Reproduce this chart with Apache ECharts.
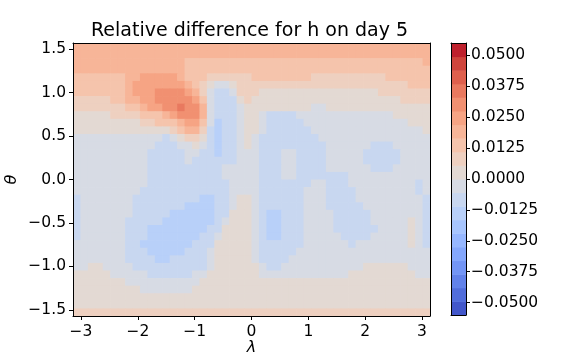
<!DOCTYPE html>
<html>
<head>
<meta charset="utf-8">
<script src="https://cdn.jsdelivr.net/npm/echarts@6/dist/echarts.min.js"></script>
<style>
  html, body { margin: 0; padding: 0; background: #fff; }
  #chart { width: 576px; height: 360px; }
</style>
</head>
<body>
<div id="chart"></div>
<script>
// contour levels of the colour bar
const levels = [-0.055, -0.0495, -0.044, -0.0385, -0.033, -0.0275, -0.022, -0.0165, -0.011, -0.0055,
  0, 0.0055, 0.011, 0.0165, 0.022, 0.0275, 0.033, 0.0385, 0.044, 0.0495, 0.055];
const cbarTicks = [-0.05, -0.0375, -0.025, -0.0125, 0, 0.0125, 0.025, 0.0375, 0.05];
const xTicks = [-3, -2, -1, 0, 1, 2, 3];
const yTicks = [-1.5, -1, -0.5, 0, 0.5, 1, 1.5];

// field: 36 latitude rows (north to south) x 48 longitude columns,
// each cell holds the contour band it sits in (c=-3, b=-2, a=-1, 0..6), run-length written
const bandRows = [
  '3*48',
  '3*48',
  '3*15 2*32 3',
  '3*15 2*33',
  '2*7 3*2 4*5 3 2*3 1*6 2*8 1*10 2*6',
  '2*7 3 4*7 3 2 1 0 a*2 0 1*23 2*3',
  '2*7 3 4*3 5*4 4 3 1 a b*2 a 1*3 0*16 1*7',
  '1*5 2*2 3*2 4*2 5*5 4 2 a b*3 0 1 0*20 1*4',
  '1*7 2*2 3 4*2 5*2 6 5*2 3 a b*3 a 0*9 a*2 0*14',
  '0*5 1*4 2*3 3 4 5*3 3 a b*3 a 0*2 a b*4 a*13 0*5',
  '0*9 1*2 2*3 3 4*2 2 a c b*2 a 0*2 a b*5 a*14 0*3',
  '0*13 1 2 3*2 1 b c b*2 a 0*2 a b*6 a*15 0',
  'a*12 b a 0 1*2 0 b c b*2 a 0 a b*8 a*15',
  'a*11 b*3 a*2 0 a b c b*2 a 0 a b*9 a*6 b*3 a*5',
  'a*10 b*5 a*2 b*2 c b*2 a*3 b*3 a*2 b*4 a*5 b*5 a*4',
  'a*10 b*5 a b*6 a*3 b*3 a*2 b*4 a*5 b*5 a*4',
  'a*10 b*10 a*5 b*3 a*2 b*4 a*6 b*3 a*5',
  'a*10 b*10 a*5 b*3 a*2 b*7 a*11',
  'a*10 b*11 a*4 b*7 a*2 b*3 a*9 b a',
  'a*9 b*12 a*4 b*6 a*3 b*4 a*8 b a',
  'b a*7 b*9 c*2 b*2 a 0*2 a b*6 a*3 b*4 a*9 b',
  'b a*7 b*7 c*4 b*2 a 0*2 a b*6 a*3 b*5 a*8 b',
  'b a*7 b*5 c*6 b*2 0*3 a b c*2 b*3 a*4 b*5 a*7 b',
  'b a*6 b*5 c*7 b a 0*3 a b c*2 b*3 a*4 b*5 a*5 0 a b',
  'b a*6 b*3 c*8 b*2 0*4 a b c*2 b*3 a*4 b*6 a*4 0 a b',
  'b a*6 b*3 c*7 b*2 a 0*4 a b c*2 b*3 a*5 b*4 a*5 0 a b',
  'a*7 b*2 c*7 b*3 0*5 a b*6 a*6 b a*7 0 a b',
  'a*7 b*3 c*5 b*3 a 0*5 a b*5 a*18',
  'a*7 b*4 c*2 b*5 a 0*5 a b*4 a*19',
  'a*2 0*2 a*4 b*10 a 0*6 a b*2 a*11 0*6 a*3',
  '0*5 a*5 b*6 a*2 0*7 a*12 0*9 a*2',
  '0*7 a*10 0*31',
  '0*9 a*7 0*32',
  '0*48',
  '0*48',
  '1*48'
];

// coolwarm colour of each band (bottom to top)
const bandColors = [
  '#4257ca', '#516ddb', '#6282ea', '#7395f5', '#84a7fc', '#96b7ff', '#a7c5fe', '#b8d0f9',
  '#c8d7f0', '#d7dbe4', '#e3d9d3', '#eed0c0', '#f5c4ac', '#f7b598', '#f6a484', '#f19071',
  '#e9795f', '#de604d', '#cf453c', '#be212d'
];

const nLat = bandRows.length, nLon = 48;
const dLon = 2 * Math.PI / nLon, dLat = Math.PI / nLat;
const codeBand = { c: -3, b: -2, a: -1 };

function bandOf(v) {
  for (let i = 0; i < levels.length - 1; i++) {
    if (v >= levels[i] && v < levels[i + 1]) return i;
  }
  return v < levels[0] ? 0 : levels.length - 2;
}

const cells = [];
bandRows.forEach((row, j) => {
  const codes = [];
  row.split(' ').forEach(tok => {
    const [c, n] = tok.split('*');
    for (let k = 0; k < (n ? +n : 1); k++) codes.push(c);
  });
  const lat = Math.PI / 2 - (j + 0.5) * dLat;
  for (let i = 0; i < nLon; i++) {
    const c = codes[Math.min(i, codes.length - 1)];
    const k = c in codeBand ? codeBand[c] : +c;
    const v = (levels[k + 10] + levels[k + 11]) / 2;
    cells.push([-Math.PI + (i + 0.5) * dLon, lat, v, bandOf(v)]);
  }
});

const cbarData = levels.slice(0, -1).map((lo, i) => [0.5, lo, levels[i + 1], i]);

const font = 'DejaVu Sans';
const minus = v => (v < 0 ? '\u2212' : '');
const frame = { show: true, onZero: false, lineStyle: { color: '#000', width: 1 } };

const chart = echarts.init(document.getElementById('chart'));
chart.setOption({
  animation: false,
  backgroundColor: '#fff',
  graphic: [{
    type: 'text', left: 91, top: 22,
    style: { text: 'Relative difference for h on day 5', font: '19px "DejaVu Sans"', fill: '#000' }
  }],
  grid: [
    { left: 73, top: 43, width: 357, height: 273, containLabel: false, outerBoundsMode: 'none' },
    { left: 451, top: 43, width: 15, height: 272, containLabel: false, outerBoundsMode: 'none' }
  ],
  xAxis: [
    {
      type: 'value', gridIndex: 0, min: -Math.PI, max: Math.PI, z: 10,
      axisLine: frame,
      axisTick: { customValues: xTicks, length: 4, lineStyle: { color: '#000' } },
      axisLabel: { customValues: xTicks, color: '#000', fontSize: 15.5, fontFamily: font, margin: 8,
        formatter: v => minus(v) + Math.abs(v).toFixed(0) },
      splitLine: { show: false },
      name: 'λ', nameLocation: 'middle', nameGap: 24, nameMoveOverlap: false,
      nameTextStyle: { color: '#000', fontSize: 16, fontFamily: font, fontStyle: 'italic' }
    },
    { type: 'value', gridIndex: 0, position: 'top', min: -Math.PI, max: Math.PI, z: 10,
      axisLine: frame, axisTick: { show: false }, axisLabel: { show: false }, splitLine: { show: false } },
    { type: 'value', gridIndex: 1, min: 0, max: 1, z: 10,
      axisLine: frame, axisTick: { show: false }, axisLabel: { show: false }, splitLine: { show: false } },
    { type: 'value', gridIndex: 1, position: 'top', min: 0, max: 1, z: 10,
      axisLine: frame, axisTick: { show: false }, axisLabel: { show: false }, splitLine: { show: false } }
  ],
  yAxis: [
    {
      type: 'value', gridIndex: 0, min: -Math.PI / 2, max: Math.PI / 2, z: 10,
      axisLine: frame,
      axisTick: { customValues: yTicks, length: 4, lineStyle: { color: '#000' } },
      axisLabel: { customValues: yTicks, color: '#000', fontSize: 15.5, fontFamily: font, margin: 7,
        formatter: v => minus(v) + Math.abs(v).toFixed(1) },
      splitLine: { show: false },
      name: 'θ', nameLocation: 'middle', nameGap: 53, nameRotate: 90, nameMoveOverlap: false,
      nameTextStyle: { color: '#000', fontSize: 16, fontFamily: font, fontStyle: 'italic' }
    },
    { type: 'value', gridIndex: 0, position: 'right', min: -Math.PI / 2, max: Math.PI / 2, z: 10,
      axisLine: frame, axisTick: { show: false }, axisLabel: { show: false }, splitLine: { show: false } },
    {
      type: 'value', gridIndex: 1, position: 'right', min: levels[0], max: levels[levels.length - 1], z: 10,
      axisLine: frame,
      axisTick: { customValues: cbarTicks, length: 4, lineStyle: { color: '#000' } },
      axisLabel: { customValues: cbarTicks, color: '#000', fontSize: 15.5, fontFamily: font, margin: 5,
        formatter: v => minus(v) + Math.abs(v).toFixed(4) },
      splitLine: { show: false }
    },
    { type: 'value', gridIndex: 1, position: 'left', min: levels[0], max: levels[levels.length - 1], z: 10,
      axisLine: frame, axisTick: { show: false }, axisLabel: { show: false }, splitLine: { show: false } }
  ],
  series: [
    {
      type: 'custom', xAxisIndex: 0, yAxisIndex: 0, clip: true,
      data: cells,
      renderItem: (params, api) => {
        const lon = api.value(0), lat = api.value(1);
        const p0 = api.coord([lon - dLon / 2, lat + dLat / 2]);
        const p1 = api.coord([lon + dLon / 2, lat - dLat / 2]);
        return {
          type: 'rect',
          shape: { x: p0[0], y: p0[1], width: p1[0] - p0[0] + 0.7, height: p1[1] - p0[1] + 0.7 },
          style: { fill: bandColors[api.value(3)] }
        };
      }
    },
    {
      type: 'custom', xAxisIndex: 2, yAxisIndex: 2,
      data: cbarData,
      renderItem: (params, api) => {
        const p0 = api.coord([0, api.value(2)]);
        const p1 = api.coord([1, api.value(1)]);
        return {
          type: 'rect',
          shape: { x: p0[0], y: p0[1], width: p1[0] - p0[0], height: p1[1] - p0[1] + 0.5 },
          style: { fill: bandColors[api.value(3)] }
        };
      }
    }
  ]
});
</script>
</body>
</html>
